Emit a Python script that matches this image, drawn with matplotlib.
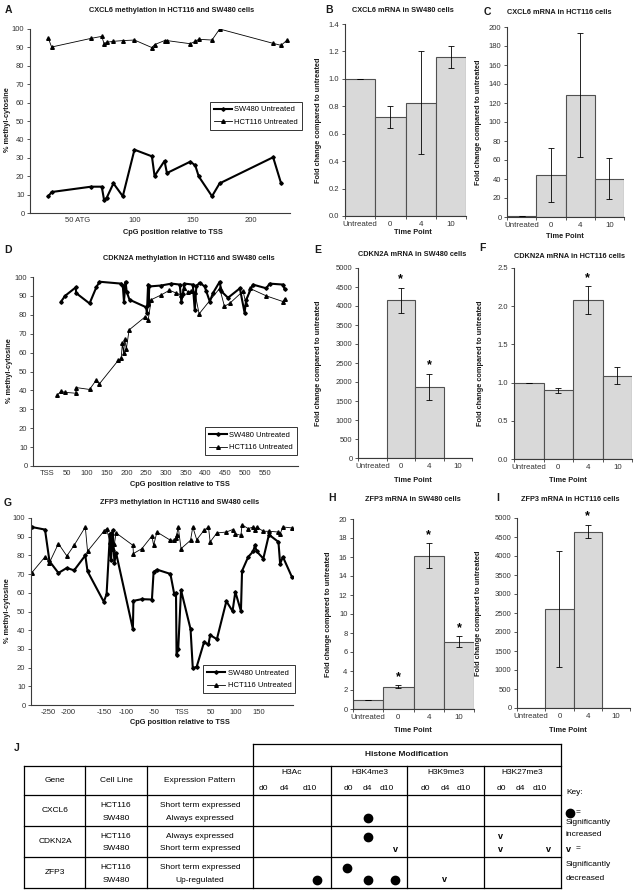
import numpy as np
import matplotlib
matplotlib.use('Agg')
import matplotlib.pyplot as plt

plt.rcParams['font.family'] = ['Liberation Sans', 'DejaVu Sans']

W, H = 635, 892

# ---------------- data ----------------
time_points = ['Untreated', '0', '4', '10']
legend_names = ['SW480 Untreated', 'HCT116 Untreated']

# A: CXCL6 methylation
cxcl6_pos = [24.9, 27.7, 61.8, 71.1, 73.1, 75.4, 81.2, 89.3, 99.4, 114.5, 116.8,
             125.4, 127.5, 147.7, 152, 155, 166.5, 173.1, 219.4, 226.3, 231.5]
cxcl6_sw480 = [9.1, 11.4, 14.3, 14.3, 7.1, 8.3, 16.1, 9.1, 34.4, 30.8, 20.1,
               28.3, 21.7, 27.9, 25.9, 19.9, 9.1, 16.1, 30.3, 16.1]
cxcl6_hct116 = [94.9, 90.2, 94.9, 96, 92, 92.8, 93.3, 93.7, 94, 89.9, 91.5,
                93.7, 93.7, 92, 93.3, 94.4, 94, 100, 92.2, 91.1, 94]
cxcl6_ticks = [50, 100, 150, 200]
cxcl6_ticklabels = ['50 ATG', '100', '150', '200']

# B, C: CXCL6 mRNA
cxcl6_sw480_mrna = [1.0, 0.72, 0.825, 1.16]
cxcl6_sw480_err = [0, 0.08, 0.375, 0.08]
cxcl6_hct116_mrna = [1, 44.5, 128.5, 40.5]
cxcl6_hct116_err = [0, 28.5, 65, 21.5]

# D: CDKN2A methylation
cdkn2a_sw480_pos = [35, 45, 72, 73, 107, 124, 132, 187, 191, 194, 198, 201, 208, 250,
                    252, 255, 256, 258, 288, 314, 335, 339, 343, 347, 368, 373, 377,
                    385, 398, 402, 411, 419, 436, 440, 457, 487, 499, 503, 520, 554,
                    562, 596, 600]
cdkn2a_sw480 = [87, 90, 94.5, 91.5, 86, 94.5, 97.5, 96.5, 95.5, 87, 97.5, 92, 88, 84,
                81, 96, 85, 95, 95.5, 96.5, 96, 87, 91, 96.5, 96, 82.5, 95,
                97, 95, 92.5, 87, 91.5, 97.5, 92.5, 89, 94, 81, 88, 96, 94,
                96.5, 96, 93.5]
cdkn2a_hct116_pos = [25, 35, 44, 72, 73, 107, 124, 132, 180, 187, 190, 193, 196, 200,
                     207, 248, 255, 263, 288, 309, 326, 339, 347, 356, 364, 373, 384,
                     436, 448, 461, 495, 503, 512, 554, 596, 600]
cdkn2a_hct116 = [37.5, 39.5, 39, 38.5, 41.5, 40.5, 45.5, 43.5, 56, 57, 65, 60, 67, 62,
                 72, 79, 77, 88, 90.5, 93, 91.5, 90.5, 94, 92, 92.5, 92, 80.5,
                 94, 84.5, 86, 92.5, 85.5, 94, 90, 87, 88.5]
cdkn2a_ticks = list(range(0, 551, 50))
cdkn2a_ticklabels = ['TSS'] + [str(t) for t in range(50, 551, 50)]

# E, F: CDKN2A mRNA
cdkn2a_sw480_mrna = [1, 4150, 1860, 8]
cdkn2a_sw480_err = [0, 330, 345, 0]
cdkn2a_sw480_sig = [False, True, True, False]
cdkn2a_hct116_mrna = [1.0, 0.90, 2.08, 1.09]
cdkn2a_hct116_err = [0, 0.03, 0.18, 0.11]
cdkn2a_hct116_sig = [False, False, True, False]

# G: ZFP3 methylation
zfp3_pos = [-269, -245, -237, -221, -206, -193, -173, -169, -140, -135, -129, -127,
            -124, -121, -118, -88, -87, -72, -54, -51, -45, -21, -14, -11, -10, -7,
            -2, 15, 19, 26, 39, 47, 50, 62, 79, 90, 95, 105, 107, 118, 127, 130,
            133, 145, 155, 172, 175, 180, 196]
zfp3_sw480 = [95.2, 93.8, 76.9, 70.6, 73.3, 72, 80, 71.5, 55.2, 59.2, 91.6, 77.4,
              93.4, 76.2, 81.3, 40.6, 55.7, 56.6, 56.4, 71.2, 72.4, 70.1, 59.1, 60.1,
              26.7, 30.2, 61.4, 40.6, 19.6, 20.5, 33.5, 32.4, 37.4, 35.2, 55.5, 50.2,
              60.5, 50.2, 71.7, 79.2, 82.2, 85.4, 82.2, 78.3, 91.1, 87.2, 75.6, 79.2, 68.5]
zfp3_hct116 = [70.6, 79.2, 76.2, 86.3, 79.7, 85.4, 95.2, 82.2, 92.9, 94.3, 87.2, 92,
               83.6, 86.3, 92, 85.4, 81, 83.6, 90.4, 85.4, 92.5, 88.1, 88.1, 89.5,
               90.7, 95.2, 83.6, 88.1, 95.2, 88.4, 93.4, 95.2, 87.2, 92, 92.5, 93.8,
               91.6, 90.7, 96.4, 94.3, 95.2, 93.8, 95.2, 92.9, 92.9, 92.5, 91.6, 95.2, 94.7]
zfp3_ticks = [-240, -203, -140, -100, -50, 0, 51, 96, 137]
zfp3_ticklabels = ['-250', '-200', '-150', '-100', '-50', 'TSS', '50', '100', '150']

# H, I: ZFP3 mRNA
zfp3_sw480_mrna = [1.0, 2.33, 16.15, 7.1]
zfp3_sw480_err = [0, 0.17, 1.3, 0.55]
zfp3_sw480_sig = [False, True, True, True]
zfp3_hct116_mrna = [1, 2600, 4640, 12]
zfp3_hct116_err = [0, 1530, 170, 0]
zfp3_hct116_sig = [False, False, True, False]

# J: histone table
genes = ['CXCL6', 'CDKN2A', 'ZFP3']
cell_lines = ['HCT116', 'SW480']
patterns = [['Short term expressed', 'Always expressed'],
            ['Always expressed', 'Short term expressed'],
            ['Short term expressed', 'Up-regulated']]
modifications = ['H3Ac', 'H3K4me3', 'H3K9me3', 'H3K27me3']
days = ['d0', 'd4', 'd10']
# (gene, cell line, modification, day, symbol)
table_marks = [(0, 1, 1, 1, 'dot'),
               (1, 0, 1, 1, 'dot'), (1, 1, 1, 2, 'v'), (1, 0, 3, 0, 'v'),
               (1, 1, 3, 0, 'v'), (1, 1, 3, 2, 'v'),
               (2, 0, 1, 0, 'dot'), (2, 1, 0, 2, 'dot'), (2, 1, 1, 1, 'dot'),
               (2, 1, 1, 2, 'dot'), (2, 1, 2, 1, 'v')]

# ---------------- helpers ----------------
fig = plt.figure(figsize=(W / 100, H / 100), dpi=100)
fig.patch.set_facecolor('white')

AX_COL = '#3a3a3a'
TXT = '#1a1a1a'


def add_ax(l, t, r, b):
    return fig.add_axes([l / W, 1 - b / H, (r - l) / W, (b - t) / H])


def ftext(x, y, s, **kw):
    kw.setdefault('ha', 'center')
    kw.setdefault('va', 'center')
    kw.setdefault('color', TXT)
    fig.text(x / W, 1 - y / H, s, **kw)


def base_style(ax):
    for s in ['top', 'right']:
        ax.spines[s].set_visible(False)
    for s in ['left', 'bottom']:
        ax.spines[s].set_color(AX_COL)
        ax.spines[s].set_linewidth(0.8)
    ax.tick_params(which='both', labelsize=5.5, length=2.5, width=0.6, color=AX_COL,
                   pad=1.5, labelcolor='#333333')


def line_panel(ax, sw_x, sw_y, hc_x, hc_y, xlim, ticks, ticklabels, legend_kw):
    base_style(ax)
    ax.plot(sw_x, sw_y, color='black', lw=1.5, marker='D', ms=1.8, label=legend_names[0])
    ax.plot(hc_x, hc_y, color='black', lw=0.6, marker='^', ms=2.6, label=legend_names[1])
    ax.set_xlim(*xlim)
    ax.set_ylim(0, 100)
    ax.set_yticks(range(0, 101, 10))
    ax.set_xticks(ticks)
    ax.set_xticklabels(ticklabels)
    ax.tick_params(axis='x', length=0, pad=3)
    leg = ax.legend(fontsize=5.5, frameon=True, fancybox=False, edgecolor='black',
                    handlelength=2.4, borderpad=0.5, labelspacing=0.7,
                    handletextpad=0.3, borderaxespad=0, **legend_kw)
    leg.get_frame().set_linewidth(0.7)


def bar_panel(ax, vals, errs, ymax, step, fmt, sig=None):
    base_style(ax)
    x = np.arange(len(time_points))
    ax.bar(x, vals, width=1.0, color='#d9d9d9', edgecolor='#505050', linewidth=0.8,
           yerr=errs, error_kw=dict(ecolor='black', elinewidth=0.6, capsize=2.5,
                                    capthick=0.6), zorder=2)
    ax.set_xlim(-0.5, len(time_points) - 0.5)
    ax.set_ylim(0, ymax)
    ax.set_yticks(np.arange(0, ymax + step / 2, step))
    ax.yaxis.set_major_formatter(matplotlib.ticker.FormatStrFormatter(fmt))
    ax.set_xticks(np.arange(-0.5, len(time_points)))
    ax.set_xticklabels([])
    ax.set_xticks(x, minor=True)
    ax.set_xticklabels(time_points, minor=True)
    ax.tick_params(axis='x', which='minor', length=0, pad=3.5, labelsize=5.7)
    if sig is not None:
        for i, s in enumerate(sig):
            if s:
                ax.text(i, vals[i] + errs[i] + 0.045 * ymax, '*', ha='center',
                        va='center', fontsize=9, fontweight='bold', color='black')


bold = dict(fontweight='bold', fontsize=5.3)
letter = dict(fontweight='bold', fontsize=7.5)
ylab_fold = 'Fold change compared to untreated'

# ---------------- A ----------------
axA = add_ax(30, 29, 290, 213)
line_panel(axA, cxcl6_pos[:len(cxcl6_sw480)], cxcl6_sw480, cxcl6_pos, cxcl6_hct116,
           (9, 234), cxcl6_ticks, cxcl6_ticklabels,
           dict(loc='center right', bbox_to_anchor=(1.046, 0.527)))
ftext(8, 10, 'A', **letter)
ftext(172, 10, 'CXCL6 methylation in HCT116 and SW480 cells', **bold)
ftext(173, 232, 'CpG position relative to TSS', **bold)
ftext(8, 120, '% methyl-cytosine', rotation=90, **bold)

# ---------------- B ----------------
axB = add_ax(345, 24, 466, 216)
bar_panel(axB, cxcl6_sw480_mrna, cxcl6_sw480_err, 1.4, 0.2, '%.1f')
ftext(329, 10, 'B', **letter)
ftext(403, 10, 'CXCL6 mRNA in SW480 cells', **bold)
ftext(413, 233, 'Time Point', **bold)
ftext(319, 120, ylab_fold, rotation=90, **bold)

# ---------------- C ----------------
axC = add_ax(507, 27, 624, 217)
bar_panel(axC, cxcl6_hct116_mrna, cxcl6_hct116_err, 200, 20, '%d')
ftext(487, 12, 'C', **letter)
ftext(559, 12, 'CXCL6 mRNA in HCT116 cells', **bold)
ftext(565, 236, 'Time Point', **bold)
ftext(479, 122, ylab_fold, rotation=90, **bold)

# ---------------- D ----------------
axD = add_ax(33, 277, 298, 466)
line_panel(axD, cdkn2a_sw480_pos, cdkn2a_sw480, cdkn2a_hct116_pos, cdkn2a_hct116,
           (-36, 634), cdkn2a_ticks, cdkn2a_ticklabels,
           dict(loc='lower right', bbox_to_anchor=(0.996, 0.058)))
ftext(8, 250, 'D', **letter)
ftext(189, 258, 'CDKN2A methylation in HCT116 and SW480 cells', **bold)
ftext(180, 485, 'CpG position relative to TSS', **bold)
ftext(10, 371, '% methyl-cytosine', rotation=90, **bold)

# ---------------- E ----------------
axE = add_ax(358, 268, 472, 458)
bar_panel(axE, cdkn2a_sw480_mrna, cdkn2a_sw480_err, 5000, 500, '%d', cdkn2a_sw480_sig)
ftext(318, 250, 'E', **letter)
ftext(412, 255, 'CDKN2A mRNA in SW480 cells', **bold)
ftext(413, 480, 'Time Point', **bold)
ftext(318, 363, ylab_fold, rotation=90, **bold)

# ---------------- F ----------------
axF = add_ax(514, 268, 632, 459)
bar_panel(axF, cdkn2a_hct116_mrna, cdkn2a_hct116_err, 2.5, 0.5, '%.1f', cdkn2a_hct116_sig)
ftext(482, 248, 'F', **letter)
ftext(570, 257, 'CDKN2A mRNA in HCT116 cells', **bold)
ftext(568, 480, 'Time Point', **bold)
ftext(480, 363, ylab_fold, rotation=90, **bold)

# ---------------- G ----------------
axG = add_ax(31, 518, 293, 705)
line_panel(axG, zfp3_pos, zfp3_sw480, zfp3_pos, zfp3_hct116,
           (-270, 198), zfp3_ticks, zfp3_ticklabels,
           dict(loc='lower right', bbox_to_anchor=(1.008, 0.064)))
ftext(8, 503, 'G', **letter)
ftext(180, 503, 'ZFP3 methylation in HCT116 and SW480 cells', **bold)
ftext(180, 723, 'CpG position relative to TSS', **bold)
ftext(8, 611, '% methyl-cytosine', rotation=90, **bold)

# ---------------- H ----------------
axH = add_ax(353, 519, 474, 709)
bar_panel(axH, zfp3_sw480_mrna, zfp3_sw480_err, 20, 2, '%d', zfp3_sw480_sig)
ftext(332, 498, 'H', **letter)
ftext(413, 500, 'ZFP3 mRNA in SW480 cells', **bold)
ftext(413, 730, 'Time Point', **bold)
ftext(328, 614, ylab_fold, rotation=90, **bold)

# ---------------- I ----------------
axI = add_ax(517, 518, 630, 708)
bar_panel(axI, zfp3_hct116_mrna, zfp3_hct116_err, 5000, 500, '%d', zfp3_hct116_sig)
ftext(498, 498, 'I', **letter)
ftext(570, 500, 'ZFP3 mRNA in HCT116 cells', **bold)
ftext(568, 730, 'Time Point', **bold)
ftext(479, 613, ylab_fold, rotation=90, **bold)

# ---------------- J: table ----------------
axT = fig.add_axes([0, 0, 1, 1])
axT.set_xlim(0, W)
axT.set_ylim(H, 0)
axT.axis('off')
axT.patch.set_alpha(0)

tbl_left, tbl_right = 24, 561
hdr_top, tbl_top, hdr_bot = 744, 766, 795
row_h = 31
col_lines = [85, 147, 253, 331, 407, 484]
mod_left = [253, 331, 407, 484]
mod_w = 77
day_label_off = [[10, 31, 57], [17, 36, 56], [18, 38, 57], [17, 36, 56]]
mark_off = [16, 37, 64]
sub_y = [10.5, 23]
lk = dict(color='black', lw=0.9, solid_capstyle='projecting')
tkw = dict(fontsize=6, color='black')

row_bots = [hdr_bot + row_h * (i + 1) for i in range(len(genes))]
tbl_bot = row_bots[-1]
axT.plot([253, tbl_right], [hdr_top, hdr_top], **lk)
for yy in [tbl_top, hdr_bot] + row_bots:
    axT.plot([tbl_left, tbl_right], [yy, yy], **lk)
axT.plot([tbl_left, tbl_left], [tbl_top, tbl_bot], **lk)
axT.plot([tbl_right, tbl_right], [hdr_top, tbl_bot], **lk)
for xx in col_lines:
    axT.plot([xx, xx], [hdr_top if xx == 253 else tbl_top, tbl_bot], **lk)

ftext(17, 748, 'J', **letter)
ftext(407, 755, 'Histone Modification', fontweight='bold', fontsize=6)
ftext(55, 781, 'Gene', **tkw)
ftext(116, 781, 'Cell Line', **tkw)
ftext(200, 781, 'Expression Pattern', **tkw)
for m, name in enumerate(modifications):
    ftext(mod_left[m] + mod_w / 2, 773, name, **tkw)
    for d, dname in enumerate(days):
        ftext(mod_left[m] + day_label_off[m][d], 788, dname, **tkw)

for g, gene in enumerate(genes):
    top = hdr_bot + row_h * g
    ftext(55, top + row_h / 2, gene, **tkw)
    for c, cl in enumerate(cell_lines):
        ftext(116, top + sub_y[c], cl, **tkw)
        ftext(200, top + sub_y[c], patterns[g][c], **tkw)

for g, c, m, d, sym in table_marks:
    xx = mod_left[m] + mark_off[d]
    yy = hdr_bot + row_h * g + sub_y[c]
    if sym == 'dot':
        axT.plot([xx], [yy], 'o', color='black', ms=6)
    else:
        axT.text(xx, yy, 'v', ha='center', va='center', fontsize=6.5,
                 fontweight='bold', color='black')

# key
ftext(566, 793, 'Key:', ha='left', **tkw)
axT.plot([570], [813], 'o', color='black', ms=6)
ftext(576, 813, '=', ha='left', **tkw)
ftext(566, 822, 'Significantly', ha='left', **tkw)
ftext(566, 834, 'increased', ha='left', **tkw)
ftext(566, 849, 'v', ha='left', fontweight='bold', fontsize=6.5, color='black')
ftext(576, 849, '=', ha='left', **tkw)
ftext(566, 864, 'Significantly', ha='left', **tkw)
ftext(566, 878, 'decreased', ha='left', **tkw)

fig.savefig('out.png', dpi=100, facecolor='white')
